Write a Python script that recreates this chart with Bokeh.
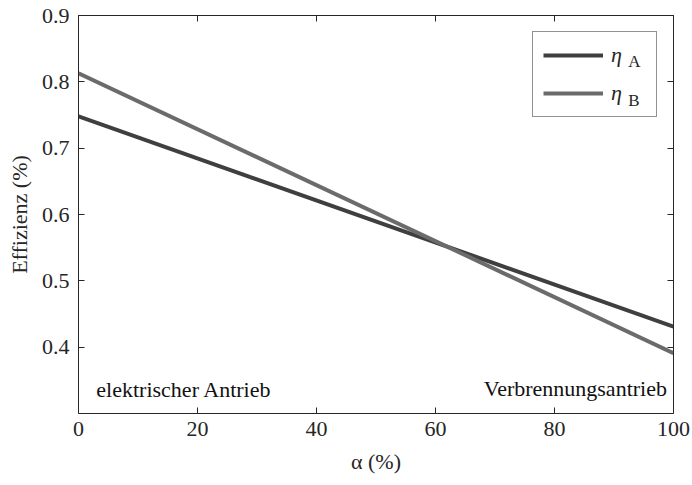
from bokeh.plotting import figure
from bokeh.models import (Range1d, FixedTicker, LinearAxis, Legend, LegendItem, Label,
                          CustomJSTickFormatter)
from bokeh.embed import file_html
from bokeh.resources import INLINE

# Data
alpha = [0, 100]
eta_A = [0.748, 0.431]
eta_B = [0.813, 0.391]
x_ticks = [0, 20, 40, 60, 80, 100]
y_ticks = [0.4, 0.5, 0.6, 0.7, 0.8, 0.9]
series_names = ["\u03b7", "\u03b7"]
series_subs = ["A", "B"]
note_left = "elektrischer Antrieb"
note_right = "Verbrennungsantrieb"

FONT = "'Liberation Serif', 'Times New Roman', serif"
AX = "#262626"

p = figure(width=692, height=485, output_backend="svg", toolbar_location=None,
           x_range=Range1d(0, 100), y_range=Range1d(0.30, 0.9),
           min_border_left=78, min_border_right=19, min_border_top=15, min_border_bottom=72)
p.outline_line_color = None
p.grid.visible = False
p.background_fill_color = "white"

for ax in [p.xaxis[0], p.yaxis[0]]:
    ax.axis_line_color = AX
    ax.major_tick_line_color = AX
    ax.major_tick_in = 6
    ax.major_tick_out = 0
    ax.minor_tick_line_color = None
    ax.major_label_text_font = FONT
    ax.major_label_text_font_size = "22px"
    ax.major_label_text_color = AX
    ax.axis_label_text_font = FONT
    ax.axis_label_text_font_size = "22px"
    ax.axis_label_text_font_style = "normal"
    ax.axis_label_text_color = AX

p.xaxis[0].ticker = FixedTicker(ticks=x_ticks)
p.yaxis[0].ticker = FixedTicker(ticks=y_ticks)
p.xaxis[0].axis_label = "\u03b1 (%)"
p.yaxis[0].axis_label = "Effizienz (%)"
p.xaxis[0].major_label_standoff = 8
p.yaxis[0].major_label_standoff = 9
p.xaxis[0].axis_label_standoff = 10
p.yaxis[0].axis_label_standoff = 7

def box_axis(ticks):
    ax = LinearAxis(ticker=FixedTicker(ticks=ticks),
                    formatter=CustomJSTickFormatter(code="return ''"))
    ax.axis_line_color = AX
    ax.major_tick_line_color = AX
    ax.major_tick_in = 6
    ax.major_tick_out = 0
    ax.minor_tick_line_color = None
    ax.major_label_standoff = 0
    return ax

p.add_layout(box_axis(x_ticks), "above")
p.add_layout(box_axis(y_ticks), "right")

rA = p.line(alpha, eta_A, line_color="#3f3f3f", line_width=4)
rB = p.line(alpha, eta_B, line_color="#6b6b6b", line_width=4)

legend = Legend(items=[LegendItem(label=series_names[0], renderers=[rA]),
                       LegendItem(label=series_names[1], renderers=[rB])],
                location="top_right", margin=16, padding=10, spacing=12,
                glyph_width=60, glyph_height=20, label_height=20, label_width=35,
                label_standoff=8,
                label_text_font=FONT, label_text_font_size="22px",
                label_text_font_style="italic", label_text_color=AX,
                border_line_color=AX, border_line_width=1,
                background_fill_alpha=0)
p.add_layout(legend)

# subscripts of legend labels
p.add_layout(Label(x=92.4, y=0.831, text=series_subs[0], text_font=FONT,
                   text_font_size="17px", text_baseline="middle", text_color=AX,
                   level="overlay"))
p.add_layout(Label(x=92.4, y=0.772, text=series_subs[1], text_font=FONT,
                   text_font_size="17px", text_baseline="middle", text_color=AX,
                   level="overlay"))

p.add_layout(Label(x=3.0, y=0.336, text=note_left, text_font=FONT,
                   text_font_size="22px", text_baseline="middle", text_color="#111111"))
p.add_layout(Label(x=98.9, y=0.338, text=note_right, text_font=FONT,
                   text_font_size="22px", text_baseline="middle", text_align="right",
                   text_color="#111111"))

open("out.html", "w").write(file_html(p, INLINE))
